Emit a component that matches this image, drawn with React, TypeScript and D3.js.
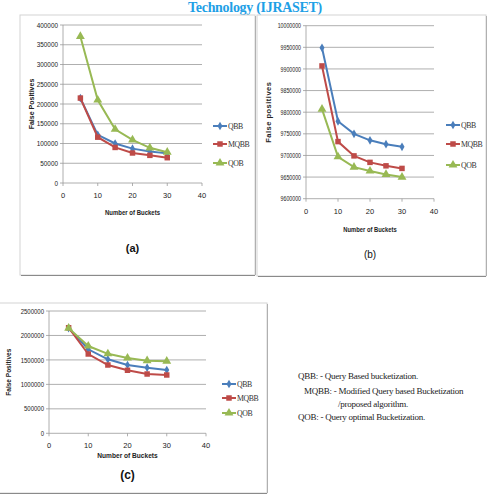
import React from 'react';
import * as d3 from 'd3';

// bucket counts shared by all three experiments
const buckets = [5, 10, 15, 20, 25, 30];

// (a) false positives
const qbbA = [215000, 122000, 100000, 87000, 80000, 75000];
const mqbbA = [215000, 116000, 90000, 76000, 70000, 64000];
const qobA = [371000, 210000, 136000, 109000, 89000, 78000];

// (b) false positives
const qbbB = [9949000, 9779000, 9750000, 9735000, 9726000, 9720000];
const mqbbB = [9907000, 9732000, 9699000, 9684000, 9676000, 9670000];
const qobB = [9807000, 9697000, 9673000, 9664000, 9656000, 9650000];

// (c) false positives
const qbbC = [2150000, 1717000, 1512000, 1396000, 1341000, 1294000];
const mqbbC = [2158000, 1621000, 1396000, 1288000, 1212000, 1192000];
const qobC = [2150000, 1784000, 1625000, 1539000, 1484000, 1474000];

const seriesNames = ['QBB', 'MQBB', 'QOB'];
const seriesColors = ['#4a7ebb', '#be4b48', '#98b954'];
const seriesSymbols = [d3.symbolDiamond, d3.symbolSquare, d3.symbolTriangle];
const symbolSizes = [22, 30, 34];

const notes = [
  'QBB: - Query Based bucketization.',
  'MQBB: - Modified Query based Bucketization',
  '/proposed algorithm.',
  'QOB: - Query optimal Bucketization.',
];

interface ChartProps {
  frame: [number, number, number, number];
  plot: [number, number, number, number]; // left, right, top, bottom
  yDomain: [number, number];
  yStep: number;
  series: number[][];
  yTitle: string;
  yTitleX: number;
  yTitleSize: number;
  yTitleSpacing?: number;
  xTitleY: number;
  xTitleSqueeze: number;
  tickSqueeze: number;
  legendX: number;
  legendY: number[];
  caption: string;
  captionY: number;
  captionSize: number;
  captionWeight: number;
}

const Chart: React.FC<ChartProps> = (p) => {
  const [l, r, t, b] = p.plot;
  const x = d3.scaleLinear().domain([0, 40]).range([l, r]);
  const y = d3.scaleLinear().domain(p.yDomain).range([b, t]);
  const yTicks = d3.range(p.yDomain[0], p.yDomain[1] + 1, p.yStep);
  const xTicks = [0, 10, 20, 30, 40];
  const line = d3.line<number>().x((_, i) => x(buckets[i])).y(v => y(v));
  const [fx, fy, fw, fh] = p.frame;
  const cx = (l + r) / 2;
  const grid = '#9a9a9a';

  return (
    <g>
      <rect x={fx} y={fy} width={fw} height={fh} fill="#fff" stroke="#d4d4d4" strokeWidth={1} />
      <line x1={fx + 1} x2={fx + fw} y1={fy + fh + 0.5} y2={fy + fh + 0.5} stroke="#8a8a8a" strokeWidth={1.2} />
      <line x1={fx + fw + 0.5} x2={fx + fw + 0.5} y1={fy + 1} y2={fy + fh} stroke="#b0b0b0" strokeWidth={1} />

      {yTicks.map(v => (
        <g key={v}>
          <line x1={l - 3} x2={r} y1={y(v)} y2={y(v)} stroke={grid} strokeWidth={0.8} />
          <text
            transform={`translate(${l - 5},${y(v) + 2.6}) scale(${p.tickSqueeze},1)`}
            textAnchor="end"
            fontSize={7.5}
            fontFamily="Liberation Sans, Arial, sans-serif"
            fill="#222"
          >
            {v}
          </text>
        </g>
      ))}
      <line x1={l} x2={l} y1={t} y2={b} stroke={grid} strokeWidth={0.8} />
      {xTicks.map(v => (
        <g key={v}>
          <line x1={x(v)} x2={x(v)} y1={b} y2={b + 3} stroke={grid} strokeWidth={0.8} />
          <text x={x(v)} y={b + 15} textAnchor="middle" fontSize={7.5}
            fontFamily="Liberation Sans, Arial, sans-serif" fill="#222">
            {v}
          </text>
        </g>
      ))}

      {p.series.map((vals, si) => (
        <g key={si}>
          <path d={line(vals) || ''} fill="none" stroke={seriesColors[si]} strokeWidth={2} />
          {vals.map((v, i) => (
            <path
              key={i}
              transform={`translate(${x(buckets[i])},${y(v)})`}
              d={d3.symbol().type(seriesSymbols[si]).size(symbolSizes[si])() || ''}
              fill={seriesColors[si]}
            />
          ))}
        </g>
      ))}

      <text
        transform={`translate(${p.yTitleX},${(t + b) / 2}) rotate(-90)`}
        textAnchor="middle"
        fontSize={p.yTitleSize}
        fontWeight="bold"
        letterSpacing={p.yTitleSpacing || 0}
        fontFamily="Liberation Sans, Arial, sans-serif"
        fill="#222"
      >
        {p.yTitle}
      </text>
      <text
        transform={`translate(${cx},${p.xTitleY}) scale(${p.xTitleSqueeze},1)`}
        textAnchor="middle"
        fontSize={7.5}
        fontWeight="bold"
        fontFamily="Liberation Sans, Arial, sans-serif"
        fill="#222"
      >
        Number of Buckets
      </text>

      {seriesNames.map((name, si) => (
        <g key={name} transform={`translate(${p.legendX},${p.legendY[si]})`}>
          <line x1={0} x2={14} y1={0} y2={0} stroke={seriesColors[si]} strokeWidth={2} />
          <path
            transform="translate(7,0)"
            d={d3.symbol().type(seriesSymbols[si]).size(symbolSizes[si])() || ''}
            fill={seriesColors[si]}
          />
          <text x={15} y={2.8} fontSize={7.8} fontFamily="Liberation Serif, Times New Roman, serif" fill="#333"
            letterSpacing={-0.4}>
            {name}
          </text>
        </g>
      ))}

      <text
        x={cx}
        y={p.captionY}
        textAnchor="middle"
        fontSize={p.captionSize}
        fontWeight={p.captionWeight}
        fontFamily="Liberation Sans, Arial, sans-serif"
        fill="#111"
      >
        {p.caption}
      </text>
    </g>
  );
};

export default function App() {
  return (
    <svg
      width={492}
      height={496}
      style={{ position: 'absolute', left: 0, top: 0, display: 'block', background: '#fff' }}
    >
      <rect x={0} y={0} width={492} height={496} fill="#fff" />
      <text x={255} y={12} textAnchor="middle" fontSize={14} fontWeight="bold"
        fontFamily="Liberation Serif, Times New Roman, serif" fill="#1ea0e6" letterSpacing={-0.3}>
        Technology (IJRASET)
      </text>

      <Chart
        frame={[20, 15, 235, 260]}
        plot={[63, 202, 25, 183]}
        yDomain={[0, 400000]}
        yStep={50000}
        series={[qbbA, mqbbA, qobA]}
        yTitle="False Positives"
        yTitleX={34}
        yTitleSize={7}
        xTitleY={215}
        xTitleSqueeze={0.8}
        tickSqueeze={0.85}
        legendX={213}
        legendY={[126, 144, 163]}
        caption="(a)"
        captionY={252}
        captionSize={11}
        captionWeight={700}
      />
      <Chart
        frame={[257, 15, 229, 261]}
        plot={[306, 434, 25.7, 198.7]}
        yDomain={[9600000, 10000000]}
        yStep={50000}
        series={[qbbB, mqbbB, qobB]}
        yTitle="False positives"
        yTitleX={271}
        yTitleSize={7.5}
        yTitleSpacing={0.5}
        xTitleY={232}
        xTitleSqueeze={0.78}
        tickSqueeze={0.7}
        legendX={446}
        legendY={[125, 144, 165]}
        caption="(b)"
        captionY={258}
        captionSize={10}
        captionWeight={400}
      />
      <Chart
        frame={[-1, 303, 268, 190]}
        plot={[49, 206, 311, 433.3]}
        yDomain={[0, 2500000]}
        yStep={500000}
        series={[qbbC, mqbbC, qobC]}
        yTitle="False Positives"
        yTitleX={11}
        yTitleSize={6.5}
        xTitleY={458}
        xTitleSqueeze={0.88}
        tickSqueeze={0.8}
        legendX={222}
        legendY={[384, 398, 413]}
        caption="(c)"
        captionY={479}
        captionSize={12}
        captionWeight={700}
      />

      <g fontFamily="Liberation Serif, Times New Roman, serif" fontSize={9} fill="#222" letterSpacing={-0.25}>
        <text x={298} y={379}>{notes[0]}</text>
        <text x={304} y={394}>{notes[1]}</text>
        <text x={338} y={407}>{notes[2]}</text>
        <text x={298} y={420}>{notes[3]}</text>
      </g>
    </svg>
  );
}
